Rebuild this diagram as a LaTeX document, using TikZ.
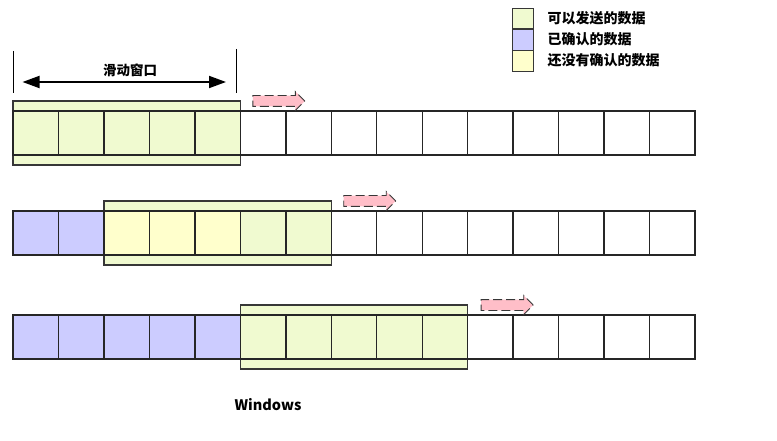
\documentclass[tikz,border=0pt]{standalone}
\usepackage{fontspec}
\setmainfont{Noto Sans CJK SC}
\usepackage{xcolor}
\definecolor{sendgreen}{RGB}{240,250,208}
\definecolor{ackpurple}{RGB}{204,204,255}
\definecolor{waityellow}{RGB}{255,255,204}
\definecolor{movepink}{RGB}{255,190,200}
\definecolor{edgegray}{RGB}{55,55,55}
\usetikzlibrary{arrows.meta,positioning,shapes.arrows,fit,backgrounds}

\begin{document}
\begin{tikzpicture}[x=1pt,y=-1pt,
  cell/.style={draw=black!85,line width=1.4pt,minimum width=45.47pt,minimum height=44pt,inner sep=0pt,outer sep=0pt},
  window/.style={draw=edgegray,line width=1.4pt,fill=sendgreen,inner xsep=0pt,inner ysep=10pt,outer sep=0pt},
  move/.style={single arrow,draw=edgegray,line width=0.9pt,dash pattern=on 9pt off 4pt,fill=movepink,minimum height=52pt,single arrow head extend=4pt,inner xsep=0pt,inner ysep=5pt,text height=0pt,text depth=0pt},
  key/.style={draw=edgegray,line width=0.8pt,minimum width=21pt,minimum height=20.5pt,inner sep=0pt},
  keytext/.style={anchor=west,font=\bfseries\fontsize{14}{16}\selectfont}]
  \begin{scope}[on background layer]
    \fill[white] (0,0) rectangle (777,441);
  \end{scope}
  \useasboundingbox (0,0) rectangle (777,441);
  % Legend
  \node[key,fill=sendgreen] (k1) at (523,18.5) {};
  \node[key,fill=ackpurple,below=0pt of k1] (k2) {};
  \node[key,fill=waityellow,below=0pt of k2] (k3) {};
  \node[keytext] (t1) at (544,18.5) {可以发送的数据};
  \node[keytext] (t2) at (544,39.5) {已确认的数据};
  \node[keytext] (t3) at (544,60.5) {还没有确认的数据};
  % Window size mark
  \coordinate (ml) at (13.5,82);
  \coordinate (mr) at (236,82);
  \draw[line width=1pt] (ml) ++(0,-31) -- ++(0,42);
  \draw[line width=1pt] (mr) ++(0,-33) -- ++(0,44);
  \draw[line width=1.8pt,{Triangle[length=17pt,width=12pt]}-{Triangle[length=17pt,width=12pt]}] ([xshift=9pt]ml) -- ([xshift=-10pt]mr);
  \node[font=\bfseries\fontsize{13.5}{15}\selectfont] (mlabel) at (130,70) {滑动窗口};
  % Cells: purple up to \a, yellow up to \y, green up to \g
  \foreach \r/\ytop/\a/\y/\g in {1/111/0/0/5, 2/211/2/5/7, 3/315/5/5/10}{
    \foreach \i in {1,...,15}{
      \ifnum\i>\g \def\cf{white}\else\ifnum\i>\y \def\cf{sendgreen}\else\ifnum\i>\a \def\cf{waityellow}\else\def\cf{ackpurple}\fi\fi\fi
      \node[cell,fill=\cf] (c\r-\i) at ({13+45.47*(\i-0.5)},\ytop+22) {};
    }
  }
  % Sliding windows
  \begin{scope}[on background layer]
    \node[window,fit=(c1-1)(c1-5)] (w1) {};
    \node[window,fit=(c2-3)(c2-7)] (w2) {};
    \node[window,fit=(c3-6)(c3-10)] (w3) {};
  \end{scope}
  % Moving direction
  \node[move,right=12pt of w1.north east] (a1) {};
  \node[move,right=12pt of w2.north east] (a2) {};
  \node[move,right=13pt of w3.north east] (a3) {};
  \node[font=\bfseries\fontsize{14.5}{16}\selectfont] (cap) at (268,405) {Windows};
\end{tikzpicture}
\end{document}
